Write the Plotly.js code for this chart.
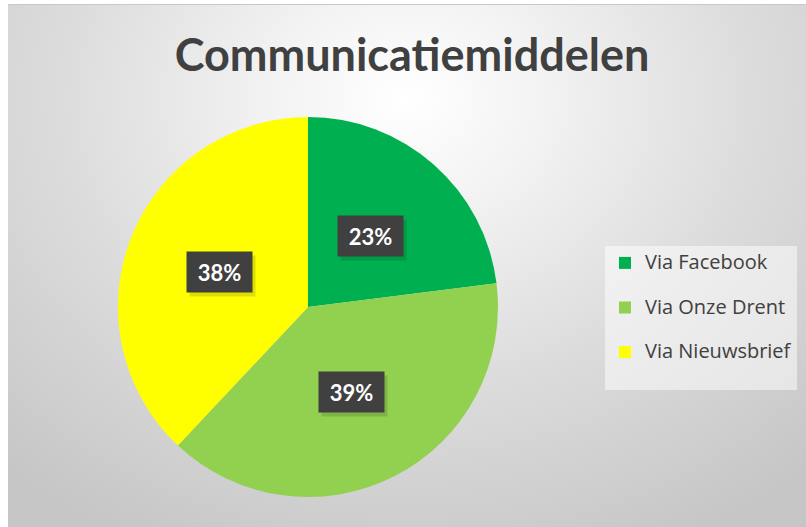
<!DOCTYPE html>
<html><head><meta charset="utf-8">
<script src="https://cdn.plot.ly/plotly-3.0.1.min.js"></script>
<style>
html,body{margin:0;padding:0;background:#fff;}
#wrap{position:relative;width:806px;height:527px;overflow:hidden;}
#bg{position:absolute;left:8px;top:4px;width:798px;height:522px;
background:radial-gradient(ellipse 75% 95% at 50% 18%, #ffffff 0%, #f3f3f3 22%, #dcdcdc 58%, #c6c6c6 100%);
border-top:1px solid #c8c8c8;}
#chart{position:absolute;left:0;top:0;width:806px;height:527px;}
</style></head>
<body><div id="wrap"><div id="bg"></div><div id="chart"></div></div>
<script>
const categories = ['Via Facebook', 'Via Onze Drent', 'Via Nieuwsbrief'];
const values = [23, 39, 38];
const colors = ['#00B050', '#92D050', '#FFFF00'];

const W = 806, H = 527;
const dom = {x: [118/W, 498/W], y: [(H-497)/H, (H-117)/H]};
const cx = (dom.x[0]+dom.x[1])/2, cy = (dom.y[0]+dom.y[1])/2;
const Rpx = 190;
const total = values.reduce((a,b)=>a+b,0);
let cum = 0;
const annotations = [];
values.forEach((v,i)=>{
  const mid = (cum + v/2)/total*2*Math.PI; cum += v;
  const ax = cx + 0.5*Rpx*Math.sin(mid)/W;
  const ay = cy + 0.5*Rpx*Math.cos(mid)/H;
  const txt = Math.round(v/total*100)+'%';
  // soft shadow box (no text)
  annotations.push({xref:'paper', yref:'paper', x: ax + 3/W, y: ay - 4/H, text: '&nbsp;', showarrow:false,
    font:{size:10, color:'rgba(0,0,0,0)'},
    bgcolor:'rgba(0,0,0,0.13)', borderpad:0, width:65, height:40, xanchor:'center', yanchor:'middle'});
  annotations.push({
    xref:'paper', yref:'paper', x: ax, y: ay,
    text: txt, showarrow:false,
    font:{family:'Lato, "Open Sans", sans-serif', size:22, color:'#ffffff', weight:'bold'},
    bgcolor:'#404040', borderpad:9, width:47, height:22, xanchor:'center', yanchor:'middle'
  });
});

const data = [{
  type:'pie', labels: categories.map(c => '<span style="font-size:20px">' + c + '</span><br>&nbsp;'),
  values: values, sort:false,
  direction:'clockwise', rotation:0,
  marker:{colors: colors, line:{width:0}},
  textinfo:'none', hoverinfo:'none',
  domain: dom
}];
const layout = {
  width: W, height: H,
  margin:{l:0,r:0,t:0,b:0},
  paper_bgcolor:'rgba(0,0,0,0)', plot_bgcolor:'rgba(0,0,0,0)',
  title:{text:'Communicatiemiddelen', x:412/W, xanchor:'center', y:1-55/H, yanchor:'middle',
    font:{family:'Lato, "Open Sans", sans-serif', size:45, color:'#404040', weight:'bold'}},
  showlegend:true,
  legend:{x:605/W, y:1-246/H, xanchor:'left', yanchor:'top', valign:'top',
    bgcolor:'rgba(255,255,255,0.5)', font:{family:'"Open Sans", sans-serif', size:16, color:'#404040'},
    itemclick:false, tracegroupgap:0},
  annotations: annotations
};
Plotly.newPlot('chart', data, layout, {displayModeBar:false, staticPlot:true});
</script></body></html>
